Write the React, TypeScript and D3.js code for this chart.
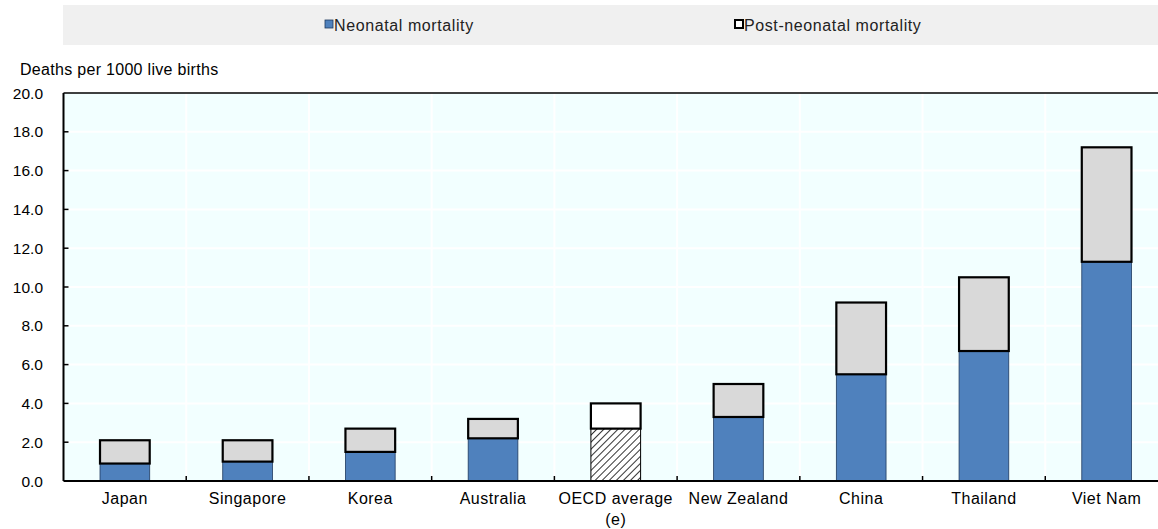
import React, { useRef, useEffect } from 'react';
import * as d3 from 'd3';

const categories = ['Japan', 'Singapore', 'Korea', 'Australia', 'OECD average\n(e)', 'New Zealand', 'China', 'Thailand', 'Viet Nam'];
const neonatal = [0.9, 1.0, 1.5, 2.2, 2.7, 3.3, 5.5, 6.7, 11.3];
const postNeonatal = [1.2, 1.1, 1.2, 1.0, 1.3, 1.7, 3.7, 3.8, 5.9];
const yTicks = [0, 2, 4, 6, 8, 10, 12, 14, 16, 18, 20];
const highlight = 'OECD average\n(e)';

const W = 1158;
const H = 529;
const FONT = '"Liberation Sans", Arial, sans-serif';

const App: React.FC = () => {
  const svgRef = useRef<SVGSVGElement>(null);

  useEffect(() => {
    if (!svgRef.current) return;
    const svg = d3.select(svgRef.current);
    svg.selectAll('*').remove();

    const left = 63.5;
    const right = 1168;
    const top = 93;
    const bottom = 481;

    const x = d3.scaleBand().domain(categories).range([left, right]).paddingInner(0).paddingOuter(0);
    const y = d3.scaleLinear().domain([0, 20]).range([bottom, top]);
    const barW = x.bandwidth() * 0.405;

    // hatch
    const defs = svg.append('defs');
    const pat = defs.append('pattern')
      .attr('id', 'hatch')
      .attr('patternUnits', 'userSpaceOnUse')
      .attr('width', 5)
      .attr('height', 5)
      .attr('patternTransform', 'rotate(45)');
    pat.append('rect').attr('width', 5).attr('height', 5).attr('fill', '#fff');
    pat.append('line').attr('x1', 0).attr('y1', 0).attr('x2', 0).attr('y2', 5)
      .attr('stroke', '#000').attr('stroke-width', 1.6);

    // legend box
    svg.append('rect').attr('x', 63).attr('y', 5).attr('width', W - 63).attr('height', 40).attr('fill', '#f0f0f0');
    const legend = [
      { label: 'Neonatal mortality', x: 324, fill: '#4f81bd', stroke: '#1f3a5f', sw: 0.8 },
      { label: 'Post-neonatal mortality', x: 734, fill: '#fff', stroke: '#000', sw: 2 },
    ];
    legend.forEach((l) => {
      svg.append('rect').attr('x', l.x + 1).attr('y', 20).attr('width', 8).attr('height', 8)
        .attr('fill', l.fill).attr('stroke', l.stroke).attr('stroke-width', l.sw);
      svg.append('text').attr('x', l.x + 10).attr('y', 30.5).attr('font-family', FONT)
        .attr('font-size', 16).attr('letter-spacing', 0.6).attr('fill', '#222').text(l.label);
    });

    // axis title
    svg.append('text').attr('x', 20).attr('y', 75).attr('font-family', FONT)
      .attr('font-size', 16).attr('letter-spacing', 0.3).attr('fill', '#000').text('Deaths per 1000 live births');

    // plot background
    svg.append('rect').attr('x', left).attr('y', top).attr('width', right - left).attr('height', bottom - top)
      .attr('fill', '#f2ffff');

    // gridlines
    svg.append('g').selectAll('line').data(yTicks.slice(1, -1)).join('line')
      .attr('x1', left).attr('x2', right).attr('y1', (d) => y(d)).attr('y2', (d) => y(d))
      .attr('stroke', '#fff').attr('stroke-width', 2);
    svg.append('g').selectAll('line').data(categories.slice(1)).join('line')
      .attr('x1', (d) => x(d)!).attr('x2', (d) => x(d)!).attr('y1', top).attr('y2', bottom)
      .attr('stroke', '#fff').attr('stroke-width', 2);

    // bars
    categories.forEach((c, i) => {
      const bx = x(c)! + (x.bandwidth() - barW) / 2;
      const isHl = c === highlight;
      const n = neonatal[i];
      const p = postNeonatal[i];
      svg.append('rect').attr('x', bx).attr('y', y(n)).attr('width', barW).attr('height', y(0) - y(n))
        .attr('fill', isHl ? 'url(#hatch)' : '#4f81bd')
        .attr('stroke', isHl ? '#000' : '#1f3a5f').attr('stroke-width', isHl ? 1 : 0.8);
      svg.append('rect').attr('x', bx).attr('y', y(n + p)).attr('width', barW).attr('height', y(n) - y(n + p))
        .attr('fill', isHl ? '#fff' : '#d9d9d9')
        .attr('stroke', '#000').attr('stroke-width', 2.2);
    });

    // frame
    svg.append('line').attr('x1', left).attr('x2', right).attr('y1', top).attr('y2', top)
      .attr('stroke', '#000').attr('stroke-width', 1.5);
    svg.append('line').attr('x1', left).attr('x2', left).attr('y1', top).attr('y2', bottom)
      .attr('stroke', '#000').attr('stroke-width', 2);
    svg.append('line').attr('x1', left).attr('x2', right).attr('y1', bottom).attr('y2', bottom)
      .attr('stroke', '#000').attr('stroke-width', 2);

    // y ticks
    const yg = svg.append('g');
    yTicks.forEach((t) => {
      if (t > 0 && t < 20) {
        yg.append('line').attr('x1', left).attr('x2', left + 5).attr('y1', y(t)).attr('y2', y(t))
          .attr('stroke', '#000').attr('stroke-width', 1.5);
      }
      yg.append('text').attr('x', 43).attr('y', y(t) + 5.5).attr('text-anchor', 'end')
        .attr('font-family', FONT).attr('font-size', 15.5).attr('fill', '#000').text(d3.format('.1f')(t));
    });

    // x ticks & labels
    categories.slice(1).forEach((c) => {
      svg.append('line').attr('x1', x(c)!).attr('x2', x(c)!).attr('y1', bottom).attr('y2', bottom - 5)
        .attr('stroke', '#000').attr('stroke-width', 1.5);
    });
    categories.forEach((c) => {
      const cx = x(c)! + x.bandwidth() / 2;
      const lines = c.split('\n');
      lines.forEach((ln, k) => {
        svg.append('text').attr('x', cx).attr('y', 504 + k * 21).attr('text-anchor', 'middle')
          .attr('font-family', FONT).attr('font-size', 16).attr('letter-spacing', 0.5)
          .attr('fill', '#000').text(ln);
      });
    });
  }, []);

  return (
    <div style={{ position: 'absolute', left: 0, top: 0 }}>
      <svg ref={svgRef} width={W} height={H} style={{ display: 'block' }} />
    </div>
  );
};

export default App;
